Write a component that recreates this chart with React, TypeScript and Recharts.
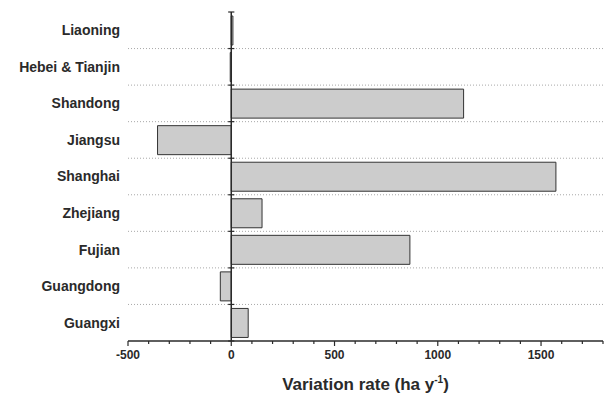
import React from "react";
import {
  BarChart,
  Bar,
  XAxis,
  YAxis,
  CartesianGrid,
  ReferenceLine,
} from "recharts";

const regions = [
  "Liaoning",
  "Hebei & Tianjin",
  "Shandong",
  "Jiangsu",
  "Shanghai",
  "Zhejiang",
  "Fujian",
  "Guangdong",
  "Guangxi",
];
const rates = [8, -5, 1125, -357, 1572, 149, 865, -53, 82];
// position of each row on a hidden 0..9 axis, so the row edges can be drawn
const slots = [0.5, 1.5, 2.5, 3.5, 4.5, 5.5, 6.5, 7.5, 8.5];

const xTicks = [
  -500, -400, -300, -200, -100, 0, 100, 200, 300, 400, 500, 600, 700, 800, 900,
  1000, 1100, 1200, 1300, 1400, 1500, 1600, 1700, 1800,
];
const xLabels = [-500, 0, 500, 1000, 1500];

// edges of the 9 row bands: dotted separators and caps on the zero line
const bandEdges = [0, 1, 2, 3, 4, 5, 6, 7, 8, 9];
const innerEdges = [1, 2, 3, 4, 5, 6, 7, 8];

const FONT = "'Liberation Sans', Arial, Helvetica, sans-serif";
const INK = "#2a2a2a";

const data = regions.map((name, i) => ({ name, rate: rates[i], slot: slots[i] }));

// eslint-disable-next-line @typescript-eslint/no-explicit-any
const XTick = ({ x, y, payload }: any) => {
  const major = xLabels.includes(payload.value);
  return (
    <g>
      <line x1={x} x2={x} y1={y} y2={y + (major ? 5 : 3)} stroke={INK} strokeWidth={1.2} />
      {major && (
        <text
          x={x}
          y={y + 18}
          textAnchor="middle"
          fontFamily={FONT}
          fontWeight="bold"
          fontSize={12}
          fill={INK}
        >
          {payload.value}
        </text>
      )}
    </g>
  );
};

// eslint-disable-next-line @typescript-eslint/no-explicit-any
const XTitle = ({ viewBox }: any) => {
  const cx = viewBox.x + viewBox.width / 2;
  return (
    <text
      x={cx}
      y={viewBox.y + 49}
      textAnchor="middle"
      fontFamily={FONT}
      fontWeight="bold"
      fontSize={17}
      fill={INK}
    >
      Variation rate (ha y
      <tspan dy={-7} fontSize={10}>
        -1
      </tspan>
      <tspan dy={7}>)</tspan>
    </text>
  );
};

export default function App() {
  return (
    <div style={{ position: "absolute", left: 0, top: 0, background: "#fff" }}>
      <BarChart
        width={605}
        height={403}
        data={data}
        layout="vertical"
        margin={{ top: 12, right: 2, bottom: 0, left: 0 }}
      >
        <CartesianGrid
          yAxisId="grid"
          vertical={false}
          syncWithTicks
          stroke="#a8a8a8"
          strokeDasharray="1 2"
        />
        <XAxis
          type="number"
          domain={[-500, 1800]}
          ticks={xTicks}
          interval={0}
          height={62}
          tickLine={false}
          tickSize={0}
          tickMargin={0}
          tick={<XTick />}
          axisLine={{ stroke: INK, strokeWidth: 1.5 }}
          label={<XTitle />}
        />
        <YAxis
          type="category"
          dataKey="name"
          width={128}
          axisLine={false}
          tickLine={false}
          interval={0}
          tick={{ fontFamily: FONT, fontWeight: "bold", fontSize: 14, fill: INK }}
        />
        <YAxis
          yAxisId="grid"
          dataKey="slot"
          type="number"
          domain={[0, 9]}
          ticks={innerEdges}
          hide
        />
        <Bar
          dataKey="rate"
          fill="#cccccc"
          stroke="#333"
          strokeWidth={1}
          barSize={29}
          isAnimationActive={false}
        />
        <ReferenceLine x={0} stroke={INK} strokeWidth={1.5} />
        {bandEdges.map((e) => (
          <ReferenceLine
            key={e}
            yAxisId="grid"
            ifOverflow="visible"
            segment={[
              { x: -15, y: e },
              { x: 15, y: e },
            ]}
            stroke={INK}
            strokeWidth={1.2}
          />
        ))}
      </BarChart>
    </div>
  );
}
